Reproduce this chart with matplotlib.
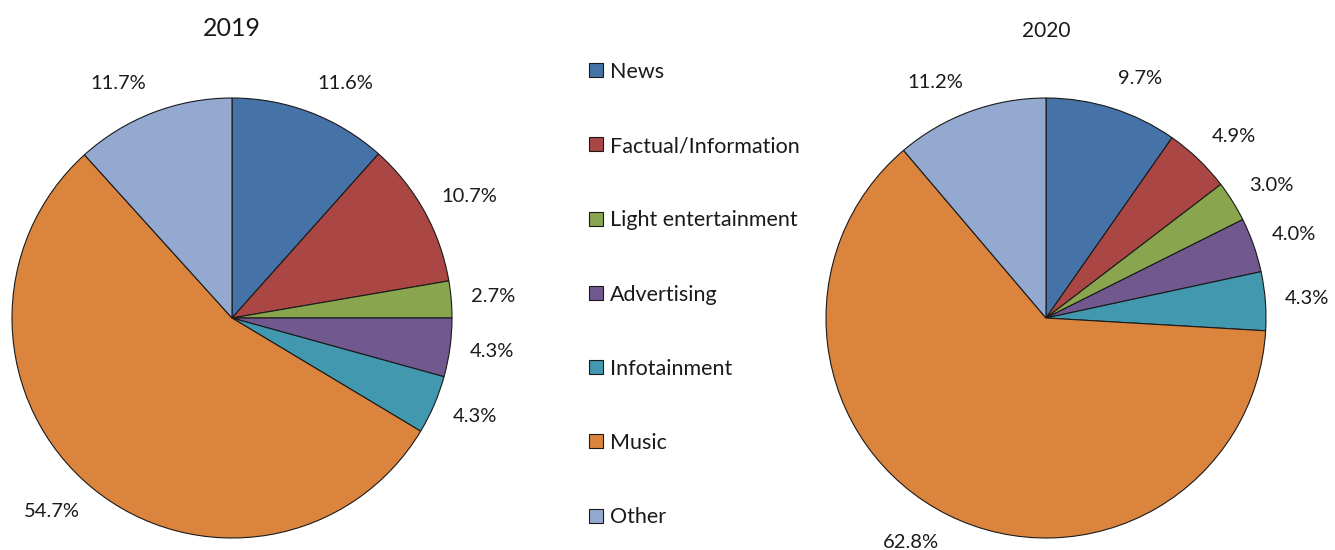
import matplotlib
matplotlib.use("Agg")
from matplotlib import pyplot as plt
import numpy as np

plt.rcParams['font.family'] = ['Lato', 'DejaVu Sans']

categories = ["News", "Factual/Information", "Light entertainment", "Advertising",
              "Infotainment", "Music", "Other"]
values_2019 = [11.6, 10.7, 2.7, 4.3, 4.3, 54.7, 11.7]
values_2020 = [9.7, 4.9, 3.0, 4.0, 4.3, 62.8, 11.2]
colors = ["#4572A7", "#AA4643", "#89A54E", "#71588F", "#4198AF", "#DB843D", "#93A9CF"]

fig = plt.figure(figsize=(13.35, 5.5), dpi=100)

W, H = 1335, 550


def draw_pie(left_px, values, title, title_size, title_y):
    ax = fig.add_axes([left_px / W, 12 / H, 440 / W, 440 / H])
    wedges, _ = ax.pie(values, colors=colors, startangle=90, counterclock=False,
                       wedgeprops=dict(edgecolor="#1a1a1a", linewidth=0.8))
    # labels outside, aligned away from the pie
    for w, v in zip(wedges, values):
        ang = np.deg2rad((w.theta1 + w.theta2) / 2)
        c, s = np.cos(ang), np.sin(ang)
        ax.annotate("%.1f%%" % v, xy=(1.09 * c, 1.09 * s), xytext=(0, 8 * s),
                    textcoords="offset points", ha="left" if c > 0 else "right",
                    va="center", fontsize=14.5, color="#1a1a1a",
                    annotation_clip=False)
    ax.set_xlim(-1, 1)
    ax.set_ylim(-1, 1)
    ax.set_aspect("equal")
    fig.text((left_px + 220) / W, 1 - title_y / H, title, fontsize=title_size,
             ha="center", va="center", color="#1a1a1a")
    return wedges


wedges = draw_pie(12, values_2019, "2019", 18, 28)
draw_pie(826, values_2020, "2020", 15, 31)

fig.legend(wedges, categories, loc="center left", bbox_to_anchor=(570 / W, 0.4645),
           frameon=False, fontsize=15.5, handlelength=0.62, handleheight=0.62,
           handletextpad=0.35, labelspacing=2.52, labelcolor="#1a1a1a")

plt.savefig("out.png", dpi=100)
